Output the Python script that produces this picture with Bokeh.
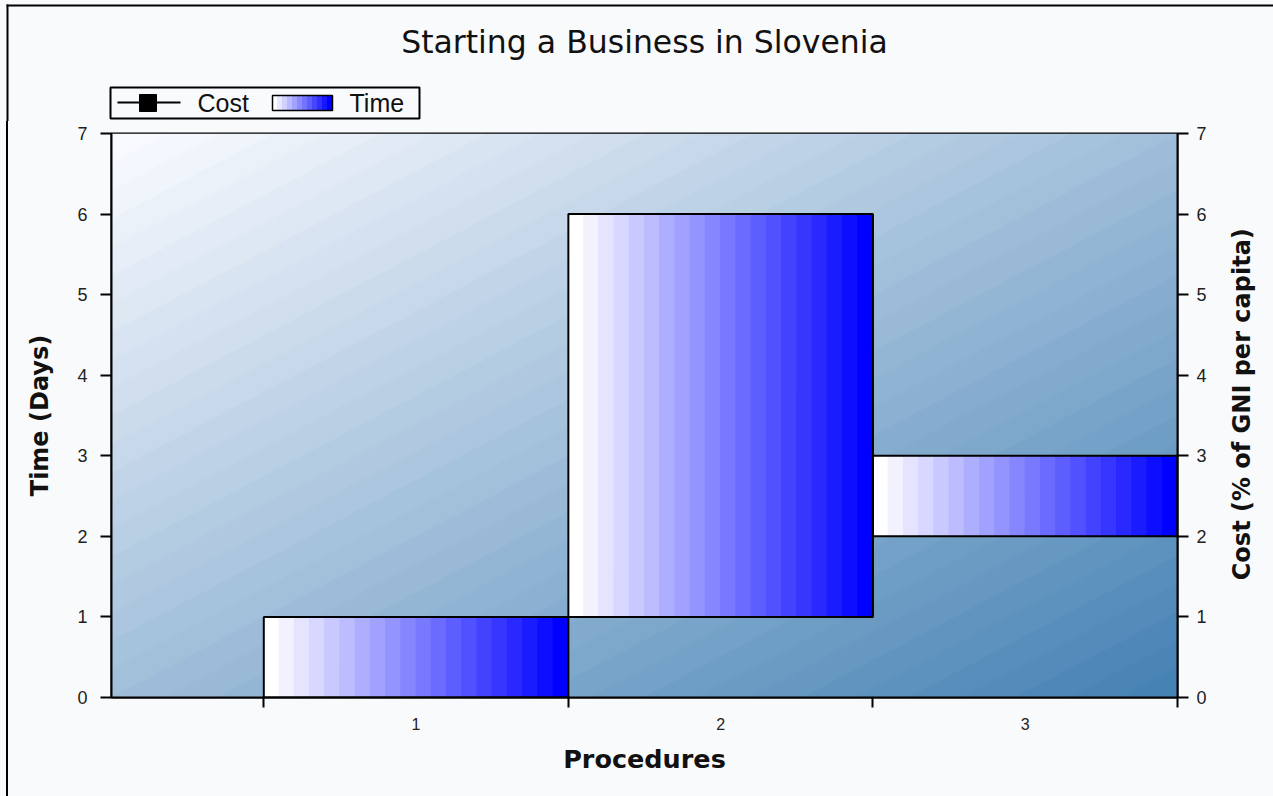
import math
import numpy as np
from bokeh.plotting import figure
from bokeh.layouts import column, row
from bokeh.models import Range1d, LinearAxis, FixedTicker, Div
from bokeh.core.properties import value
from bokeh.embed import file_html
from bokeh.resources import INLINE

# ---- data -------------------------------------------------------------
procedures = [1, 2, 3]          # procedure number
time_start = [0, 1, 2]          # day on which each procedure starts
time_end = [1, 6, 3]            # day on which each procedure ends
cost_pct = []                   # cost (% of GNI per capita) per procedure
y_ticks = [0, 1, 2, 3, 4, 5, 6, 7]
proc_bounds = [0.5, 1.5, 2.5, 3.5]
legend_labels = ["Cost", "Time"]

TITLE = "Starting a Business in Slovenia"
COST_TITLE = "Cost (% of GNI per capita)"
PAGE_BG = "#F9FAFC"
W, H = 1273, 796
HEAD_H = 121            # header strip: title and legend
EDGE_W = 8              # strip carrying the left page rule
SIDE_W = 51             # strip carrying the cost-axis title
FRAME_L, FRAME_R, FRAME_T, FRAME_B = 111, 1177, 133, 697
X_MAX, Y_MAX = 3.5, 7

TICK_FONT = "Liberation Sans"
AX_FONT = "DejaVu Sans"


def bare(width, height, x_range, y_range):
    f = figure(width=width, height=height, output_backend="svg",
               toolbar_location=None, x_axis_type=None, y_axis_type=None,
               x_range=x_range, y_range=y_range,
               min_border=0, min_border_left=0, min_border_right=0,
               min_border_top=0, min_border_bottom=0,
               background_fill_color=PAGE_BG, border_fill_color=PAGE_BG,
               outline_line_color=None)
    f.xgrid.visible = False
    f.ygrid.visible = False
    return f


# ---- header: page rule, title, legend (pixel coordinates, y down) ------
head = bare(W, HEAD_H, Range1d(0, W), Range1d(HEAD_H, 0))
head.quad(left=[6, 6], right=[W, 8], top=[4, 4], bottom=[6, HEAD_H + 1],
          fill_color="black", line_color=None)
head.text(x=[(FRAME_L + FRAME_R) / 2], y=[41.5], text=[TITLE],
          text_align="center", text_baseline="middle",
          text_font=value(AX_FONT), text_font_size="31.5px",
          text_color="#111111")

head.quad(left=[110], right=[419], top=[87], bottom=[118],
          fill_color=PAGE_BG, line_color="black", line_width=2)
# Cost entry: line with square marker
head.segment(x0=[117], y0=[102], x1=[180], y1=[102],
             line_color="black", line_width=2)
head.scatter(x=[147.5], y=[102.5], marker="square", size=17,
             fill_color="black", line_color="black")
# Time entry: stepped white-to-blue swatch
SW_L, SW_R, N_SW = 272, 332, 12
sw_l, sw_r, sw_c = [], [], []
for k in range(N_SW):
    c = int(round(255 * (1 - k / (N_SW - 1))))
    sw_l.append(SW_L + (SW_R - SW_L) * k / N_SW)
    sw_r.append(SW_L + (SW_R - SW_L) * (k + 1) / N_SW)
    sw_c.append(f"#{c:02x}{c:02x}ff")
head.quad(left=sw_l, right=sw_r, top=95, bottom=110,
          fill_color=sw_c, line_color=sw_c, line_width=1)
head.quad(left=[SW_L], right=[SW_R], top=[95], bottom=[110],
          fill_color=None, line_color="black", line_width=1.5)
head.text(x=[197, 349], y=[102.5, 102.5], text=legend_labels,
          text_baseline="middle", text_font=value(TICK_FONT),
          text_font_size="25px", text_color="#111111")

# ---- left page rule beside the chart -----------------------------------
MAIN_H = H - HEAD_H
edge = Div(text="", width=EDGE_W, height=MAIN_H, margin=0,
           styles={"background": f"linear-gradient(to right, {PAGE_BG} 6px, "
                                 f"#000000 6px, #000000 8px)"})

# ---- chart --------------------------------------------------------------
P_W = W - EDGE_W - SIDE_W
p = figure(width=P_W, height=MAIN_H, output_backend="svg",
           toolbar_location=None,
           x_range=Range1d(0, X_MAX), y_range=Range1d(0, Y_MAX),
           min_border_left=FRAME_L - EDGE_W,
           min_border_right=P_W - (FRAME_R - EDGE_W),
           min_border_top=FRAME_T - HEAD_H, min_border_bottom=H - FRAME_B,
           border_fill_color=PAGE_BG, background_fill_color="#9CBBD6")
p.xgrid.visible = False
p.ygrid.visible = False
p.outline_line_color = "black"
p.outline_line_width = 2

# diagonal background wash: light top-left to steel blue bottom-right
gw, gh = 533, 282
u = np.linspace(0.0, 1.0, gw)[None, :]
v = np.linspace(0.0, 1.0, gh)[:, None]          # row 0 is the bottom
t = (u + (1.0 - v)) / 2.0
levels = 40
t = np.floor(t * levels).clip(0, levels - 1) / (levels - 1)
c0 = np.array([249, 250, 255], dtype=float)
c1 = np.array([70, 130, 180], dtype=float)
rgb = c0[None, None, :] + (c1 - c0)[None, None, :] * t[..., None]
img = np.empty((gh, gw), dtype=np.uint32)
view = img.view(dtype=np.uint8).reshape((gh, gw, 4))
for ch in range(3):
    view[..., ch] = rgb[..., ch].round().astype(np.uint8)
view[..., 3] = 255
p.image_rgba(image=[img], x=0, y=0, dw=X_MAX, dh=Y_MAX)

# time bars: white-to-blue stepped fill, black outline
STEPS = 20
left, right, bottom, top, colors = [], [], [], [], []
for proc, s, e in zip(procedures, time_start, time_end):
    x0 = proc - 0.5
    for k in range(STEPS):
        left.append(x0 + k / STEPS)
        right.append(x0 + (k + 1) / STEPS)
        bottom.append(s)
        top.append(e)
        c = int(round(255 * (1 - k / (STEPS - 1))))
        colors.append(f"#{c:02x}{c:02x}ff")
p.quad(left=left, right=right, bottom=bottom, top=top,
       fill_color=colors, line_color=colors, line_width=1)
p.quad(left=[q - 0.5 for q in procedures], right=[q + 0.5 for q in procedures],
       bottom=time_start, top=time_end,
       fill_color=None, line_color="black", line_width=2)

# axes
xa = p.xaxis[0]
xa.ticker = FixedTicker(ticks=procedures, minor_ticks=proc_bounds)
xa.axis_line_color = "black"
xa.axis_line_width = 2
xa.major_tick_line_color = None
xa.major_tick_in = 0
xa.major_tick_out = 10
xa.minor_tick_in = 0
xa.minor_tick_out = 10
xa.minor_tick_line_color = "black"
xa.minor_tick_line_width = 2
xa.major_label_standoff = 10
xa.major_label_text_font = TICK_FONT
xa.major_label_text_font_size = "16px"
xa.major_label_text_color = "#222222"
xa.axis_label = "Procedures"
xa.axis_label_standoff = 11


def style_y(ax):
    ax.ticker = FixedTicker(ticks=y_ticks)
    ax.axis_line_color = "black"
    ax.axis_line_width = 2
    ax.major_tick_in = 0
    ax.major_tick_out = 11
    ax.major_tick_line_color = "black"
    ax.major_tick_line_width = 2
    ax.minor_tick_line_color = None
    ax.major_label_text_font = TICK_FONT
    ax.major_label_text_font_size = "18px"
    ax.major_label_text_color = "#222222"


ya = p.yaxis[0]
style_y(ya)
ya.axis_label = "Time (Days)"
ya.major_label_standoff = 13
ya.axis_label_standoff = 20

p.extra_y_ranges = {"cost": Range1d(0, Y_MAX)}
ra = LinearAxis(y_range_name="cost")
style_y(ra)
ra.major_label_standoff = 8
p.add_layout(ra, "right")

for ax in (xa, ya):
    ax.axis_label_text_font = AX_FONT
    ax.axis_label_text_font_style = "bold"
    ax.axis_label_text_font_size = "24px"
    ax.axis_label_text_color = "#111111"
xa.axis_label_text_font_size = "25.5px"

# ---- cost-axis title, reading upwards, in its own strip ----------------
side = bare(SIDE_W, MAIN_H, Range1d(0, SIDE_W), Range1d(0, Y_MAX))
side.text(x=[1241 - (W - SIDE_W)], y=[3.64], text=[COST_TITLE],
          angle=math.pi / 2, text_align="center", text_baseline="middle",
          text_font=value(AX_FONT), text_font_style="bold",
          text_font_size="24px", text_color="#111111")

body = row(edge, p, side, spacing=0, styles={"background-color": PAGE_BG})
layout = column(head, body, spacing=0, styles={"background-color": PAGE_BG})
open("out.html", "w").write(file_html(layout, INLINE))
